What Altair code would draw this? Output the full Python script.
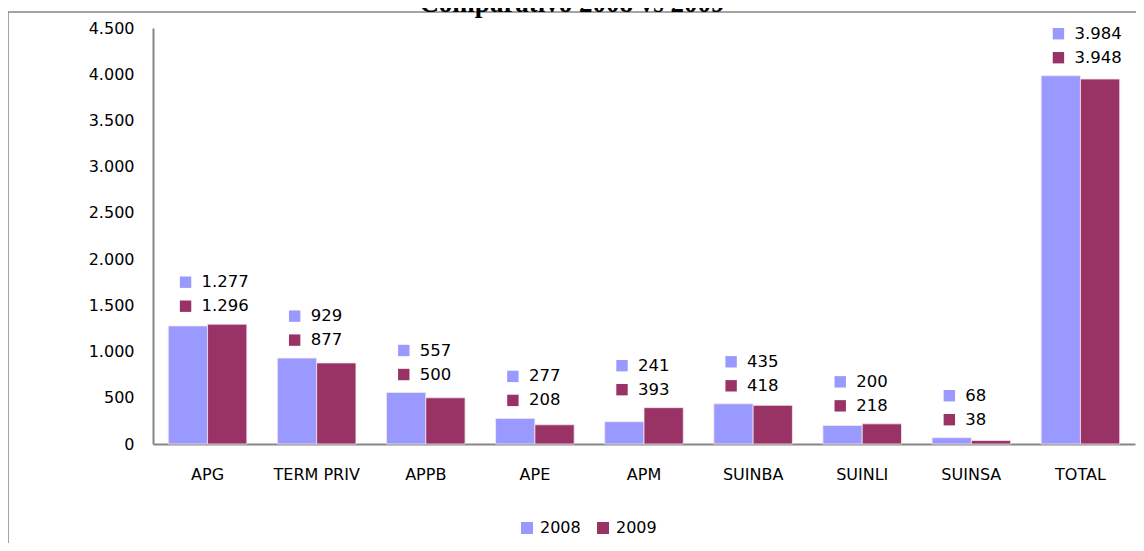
import altair as alt
import pandas as pd

categories = ["APG", "TERM PRIV", "APPB", "APE", "APM", "SUINBA", "SUINLI", "SUINSA", "TOTAL"]
years = ["2008", "2009"]
v2008 = [1277, 929, 557, 277, 241, 435, 200, 68, 3984]
v2009 = [1296, 877, 500, 208, 393, 418, 218, 38, 3948]
colors = ["#9999FF", "#993366"]
y_ticks = [0, 500, 1000, 1500, 2000, 2500, 3000, 3500, 4000, 4500]


def br(v):
    return f"{v:,}".replace(",", ".")


long_df = pd.DataFrame(
    [{"cat": c, "year": years[0], "value": a} for c, a in zip(categories, v2008)]
    + [{"cat": c, "year": years[1], "value": b} for c, b in zip(categories, v2009)]
)
wide_df = pd.DataFrame({
    "cat": categories,
    "v2008": v2008,
    "v2009": v2009,
})
wide_df["top"] = wide_df[["v2008", "v2009"]].max(axis=1)
wide_df["t2008"] = [br(v) for v in v2008]
wide_df["t2009"] = [br(v) for v in v2009]

W, H = 982, 416
FONT = "DejaVu Sans"

xscale = alt.Scale(domain=categories, paddingInner=0.28, paddingOuter=0.14)
yscale = alt.Scale(domain=[0, 4500], nice=False)

bars = alt.Chart(long_df).mark_bar(stroke="#f4e6f0", strokeWidth=0.8).encode(
    x=alt.X("cat:N", scale=xscale, sort=categories,
            axis=alt.Axis(title=None, labelAngle=0, ticks=False, labelPadding=22,
                          labelFontSize=16, labelFont=FONT, labelColor="#000000",
                          domainColor="#868686", domainWidth=2)),
    y=alt.Y("value:Q", scale=yscale,
            axis=alt.Axis(title=None, values=y_ticks, ticks=False, grid=False,
                          labelPadding=19, labelFontSize=16, labelFont=FONT,
                          labelColor="#000000", domainColor="#868686", domainWidth=2,
                          labelExpr="replace(format(datum.value, ','), ',', '.')")),
    xOffset=alt.XOffset("year:N", scale=alt.Scale(domain=years, paddingInner=0, paddingOuter=0)),
    color=alt.Color("year:N", scale=alt.Scale(domain=years, range=colors),
                    legend=alt.Legend(title=None, orient="none", legendX=366, legendY=492,
                                      direction="horizontal", symbolType="square",
                                      symbolSize=144, symbolStrokeWidth=0,
                                      labelFontSize=16, labelFont=FONT, labelColor="#000000",
                                      labelOffset=5, columnPadding=14)),
)

base = alt.Chart(wide_df).encode(
    x=alt.X("cat:N", scale=xscale, sort=categories),
    y=alt.Y("top:Q", scale=yscale),
)

sq08 = base.mark_square(size=130, color=colors[0], opacity=1, xOffset=-22, yOffset=-42)
sq09 = base.mark_square(size=130, color=colors[1], opacity=1, xOffset=-22, yOffset=-18)
tx08 = base.mark_text(align="left", baseline="middle", dx=-6, dy=-42, fontSize=16.5,
                      font=FONT, color="#000000").encode(text="t2008:N")
tx09 = base.mark_text(align="left", baseline="middle", dx=-6, dy=-18, fontSize=16.5,
                      font=FONT, color="#000000").encode(text="t2009:N")

frame = alt.Chart(alt.Data(values=[{"a": 1}])).mark_rect(
    fillOpacity=0, stroke="#868686", strokeWidth=1.5
).encode(
    x=alt.value(-145), x2=alt.value(W + 40),
    y=alt.value(-16), y2=alt.value(H + 140),
)

chart = alt.layer(frame, bars, sq08, sq09, tx08, tx09).properties(
    width=W, height=H,
    title=alt.Title("Comparativo 2008 vs 2009", anchor="middle", frame="group",
                    font="Liberation Serif", fontSize=27, fontWeight="bold",
                    color="#000000", dx=-72, offset=-7),
    autosize=alt.AutoSizeParams(type="none"),
    padding={"left": 145, "top": 20, "right": 1, "bottom": 99},
).configure_view(stroke=None).configure_axis(grid=False)

chart.save("out.html", embed_options={"renderer": "svg", "actions": False})
